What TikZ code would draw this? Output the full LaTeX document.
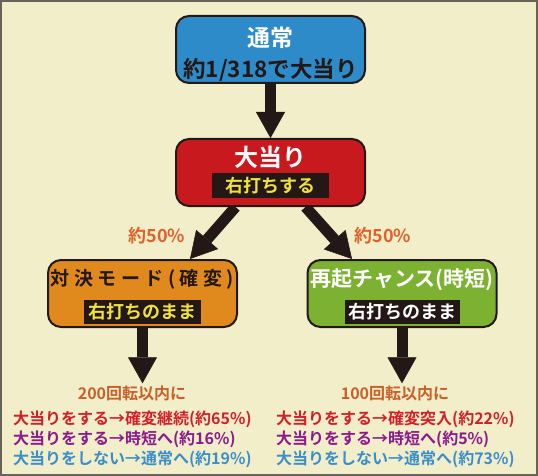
\documentclass[tikz,border=0pt]{standalone}
\usepackage{fontspec}
\setmainfont{Noto Sans CJK JP}[BoldFont={Noto Sans CJK JP Bold}]
\usetikzlibrary{arrows.meta,positioning}

\definecolor{paper}{RGB}{242,238,201}
\definecolor{frame}{RGB}{105,98,90}
\definecolor{ink}{RGB}{35,24,21}
\definecolor{normalblue}{RGB}{46,139,201}
\definecolor{hitred}{RGB}{200,25,30}
\definecolor{kakuorange}{RGB}{224,138,30}
\definecolor{jitangreen}{RGB}{125,177,49}
\definecolor{tagyellow}{RGB}{240,226,60}
\definecolor{rateorange}{RGB}{226,96,42}
\definecolor{condbrown}{RGB}{200,96,42}
\definecolor{winred}{RGB}{210,32,42}
\definecolor{jitanpurple}{RGB}{140,26,140}
\definecolor{backblue}{RGB}{58,143,202}

\pgfdeclarelayer{paperlayer}
\pgfdeclarelayer{shaftlayer}
\pgfsetlayers{paperlayer,shaftlayer,main}

\makeatletter
\newcommand{\spread}[2]{\def\spread@sep{}\@tfor\spread@ch:=#2\do{\spread@sep\spread@ch\def\spread@sep{\kern#1}}}
\makeatother

\begin{document}
\begin{tikzpicture}[x=1pt,y=-1pt]
    \tikzset{
      state/.style={draw=ink, line width=2pt, rounded corners=13pt, minimum width=189pt, minimum height=67pt, inner sep=0pt, node distance=123pt},
      title/.style={inner sep=0pt, font=\bfseries\fontsize{#1}{#1}\selectfont},
      tag/.style={fill=ink, minimum width=117pt, minimum height=24pt, inner sep=0pt, font=\bfseries\fontsize{18}{18}\selectfont},
      fatarrow/.style={draw=ink, line width=11pt, -{Triangle[width=29pt,length=26pt,line width=0.5pt]}},
      rate/.style={text=rateorange, font=\bfseries\fontsize{18}{18}\selectfont},
      cond/.style={text=condbrown, font=\bfseries\fontsize{16}{20}\selectfont, inner sep=2pt},
      result/.style={align=left, font=\bfseries\fontsize{16}{20}\selectfont, inner sep=0pt}
    }
    \begin{pgfonlayer}{paperlayer}
      \fill[paper] (0,0) rectangle (538,476);
      \draw[frame, line width=2pt] (1,1) rectangle (537,475);
    \end{pgfonlayer}

    % boxes
    \node [state, fill=normalblue] (normal) at (270.5,49.5) {};
    \node [state, fill=hitred, below of = normal] (hit) {};
    \node [state, fill=kakuorange, below of = hit, node distance=121pt, xshift=-128pt] (kakuhen) {};
    \node [state, fill=jitangreen, below of = hit, node distance=121pt, xshift=131.5pt] (jitan) {};

    % texts inside the boxes
    \node [title=23, text=white] (normaltitle) at ([yshift=-22.5pt]normal.north) {通常};
    \node [title=22.5, text=ink] (normalodds) at ([yshift=14.5pt]normal.south) {約1/318で大当り};
    \node [title=24, text=white] (hittitle) at ([yshift=-19pt]hit.north) {大当り};
    \node [tag, text=tagyellow, minimum height=25pt, above=9pt of hit.south] (hittag) {右打ちする};
    \node [title=19, text=ink] (kakuhentitle) at ([yshift=-20.5pt]kakuhen.north) {\spread{4.5pt}{対決モード(確変)}};
    \node [tag, text=tagyellow, above=4pt of kakuhen.south] (kakuhentag) {右打ちのまま};
    \node [title=21, text=white] (jitantitle) at ([yshift=-20.5pt]jitan.north) {再起チャンス(時短)};
    \node [tag, text=white, minimum width=115pt, above=4pt of jitan.south] (jitantag) {右打ちのまま};

    \node [rate] (rateleft) at (157,236) {約50\%};
    \node [rate] (rateright) at (383,236) {約50\%};

    \node [cond] (cond200) at (132,393) {200回転以内に};
    \node [result, anchor=north west] (res200) at (13,411)
      {\textcolor{winred}{大当りをする→確変継続(約65\%)}\\\textcolor{jitanpurple}{大当りをする→時短へ(約16\%)}\\\textcolor{backblue}{大当りをしない→通常へ(約19\%)}};
    \node [cond] (cond100) at (395,393) {100回転以内に};
    \node [result, anchor=north west] (res100) at (276,411)
      {\textcolor{winred}{大当りをする→確変突入(約22\%)}\\\textcolor{jitanpurple}{大当りをする→時短へ(約5\%)}\\\textcolor{backblue}{大当りをしない→通常へ(約73\%)}};

    \begin{pgfonlayer}{shaftlayer}
      \path [fatarrow] (normal.south) -- (hit.north);
      \path [fatarrow] ([xshift=-35pt]hit.south) -- ([xshift=47.5pt]kakuhen.north);
      \path [fatarrow] ([xshift=35pt]hit.south) -- ([xshift=-50pt]jitan.north);
      \path [fatarrow] (kakuhen.south) -- (kakuhen.south |- cond200.north);
      \path [fatarrow] (jitan.south) -- (jitan.south |- cond100.north);
    \end{pgfonlayer}
\end{tikzpicture}
\end{document}
